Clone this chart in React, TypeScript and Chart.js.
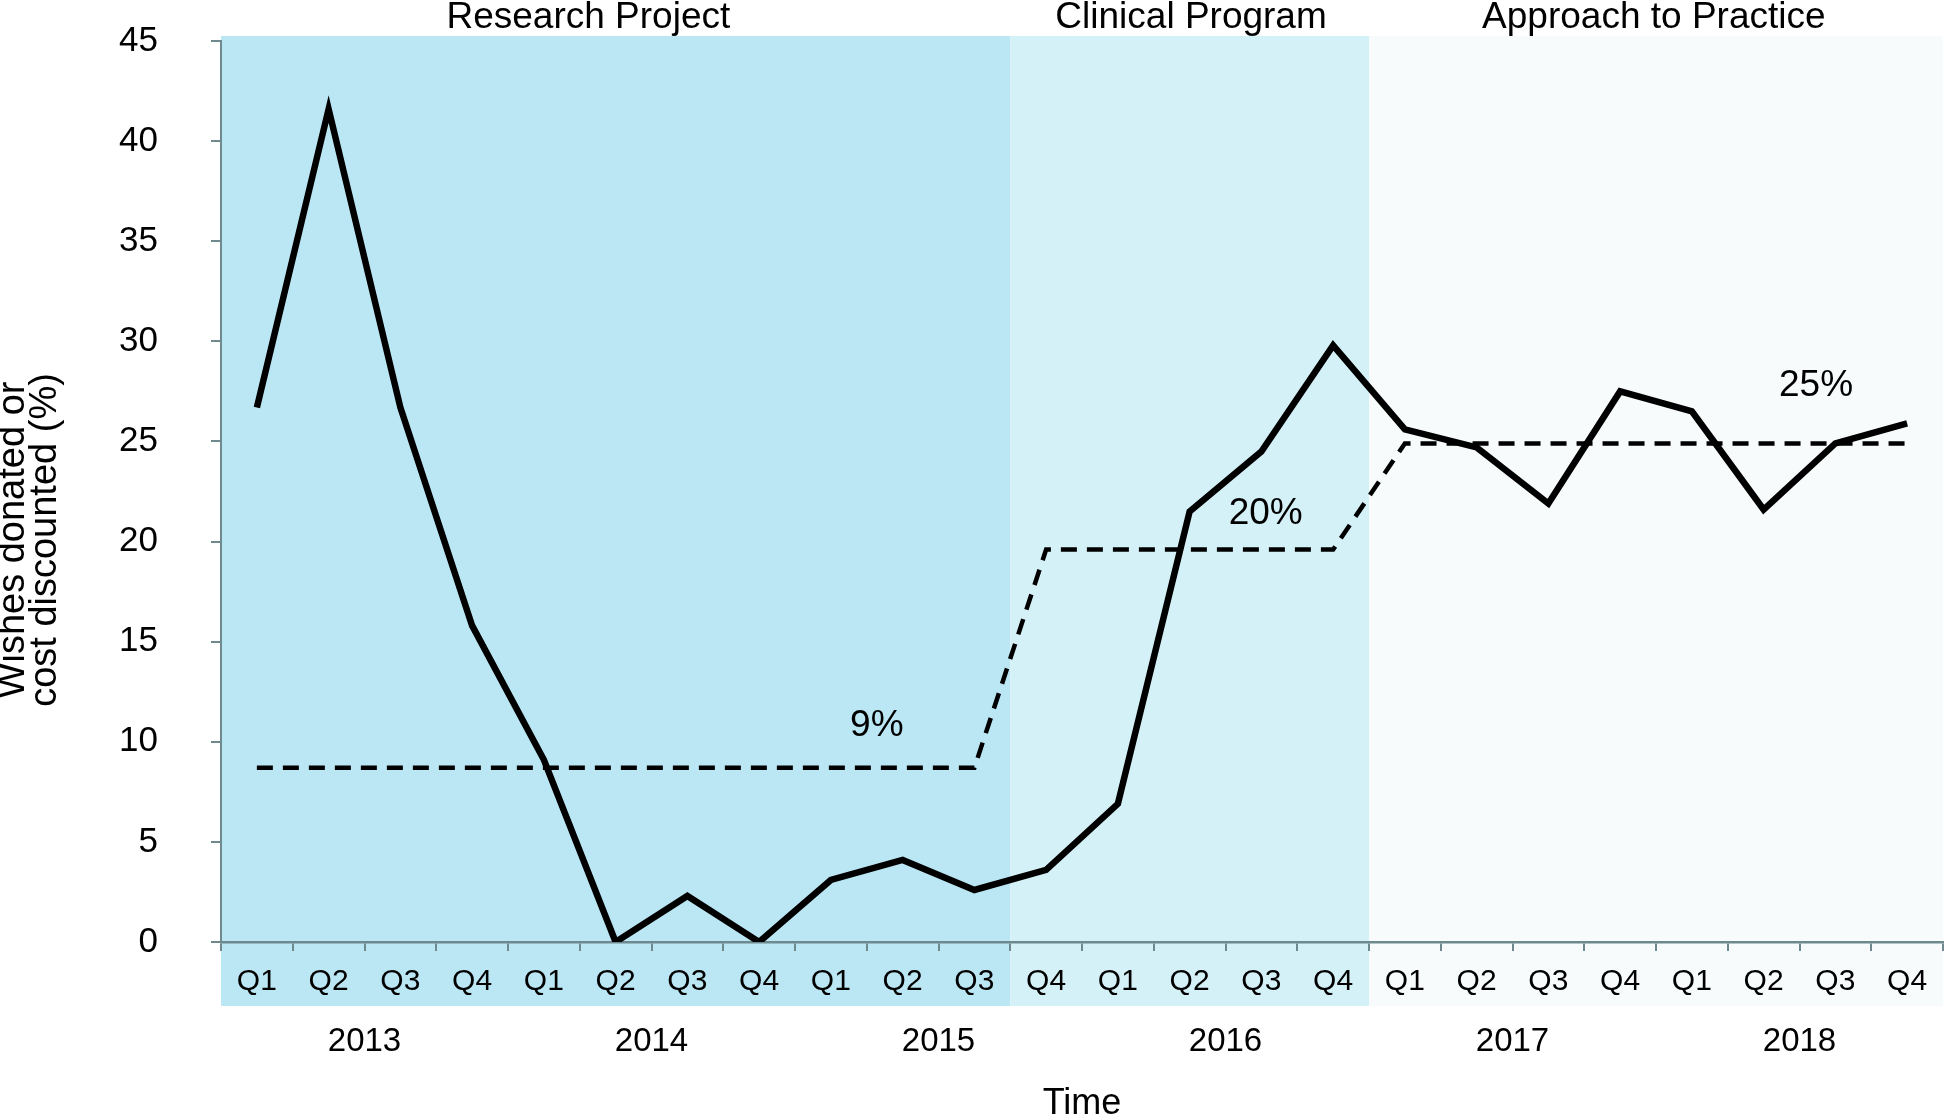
import React, { useEffect, useRef } from 'react';
import { Chart, registerables } from 'chart.js';

Chart.register(...registerables);

const quarterLabels = [
  'Q1', 'Q2', 'Q3', 'Q4',
  'Q1', 'Q2', 'Q3', 'Q4',
  'Q1', 'Q2', 'Q3', 'Q4',
  'Q1', 'Q2', 'Q3', 'Q4',
  'Q1', 'Q2', 'Q3', 'Q4',
  'Q1', 'Q2', 'Q3', 'Q4',
];
const yearLabels = ['2013', '2014', '2015', '2016', '2017', '2018'];

const wishesDonated = [
  26.7, 41.6, 26.7, 15.8,
  9.1, 0, 2.3, 0,
  3.1, 4.1, 2.6, 3.6,
  6.9, 21.5, 24.5, 29.8,
  25.6, 24.7, 21.9, 27.5,
  26.5, 21.6, 24.9, 25.9,
];

const phaseTarget = [
  8.7, 8.7, 8.7, 8.7,
  8.7, 8.7, 8.7, 8.7,
  8.7, 8.7, 8.7, 19.6,
  19.6, 19.6, 19.6, 19.6,
  24.9, 24.9, 24.9, 24.9,
  24.9, 24.9, 24.9, 24.9,
];

const phaseNames = ['Research Project', 'Clinical Program', 'Approach to Practice'];
const phaseStart = [0, 11, 16];
const phaseEnd = [10, 15, 23];
const phaseColors = ['#BBE7F5', '#D5F1F8', '#F7FBFC'];
const phaseLabelX = [4.62, 13.02, 19.47];

const targetLabels = ['9%', '20%', '25%'];
const targetLabelX = [8.64, 14.06, 21.73];
const targetLabelY = [10.8, 21.4, 27.8];

const yTitleLines = ['Wishes donated or', 'cost discounted (%)'];

const FONT = '"Liberation Sans", Arial, Helvetica, sans-serif';
const AXIS_COLOR = '#6F8A8F';

const phasePlugin = {
  id: 'phasePlugin',
  beforeDraw(chart: any) {
    const { ctx, chartArea, scales } = chart;
    const x = scales.x;
    const top = chartArea.top - 5;
    const bottom = x.bottom;
    ctx.save();
    phaseStart.forEach((s, i) => {
      const l = x.getPixelForValue(s - 0.5);
      const r = x.getPixelForValue(phaseEnd[i] + 0.5);
      ctx.fillStyle = phaseColors[i];
      ctx.fillRect(l, top, r - l, bottom - top);
    });
    ctx.restore();
  },
  afterDraw(chart: any) {
    const { ctx, scales } = chart;
    const x = scales.x;
    const y = scales.y;
    ctx.save();
    ctx.fillStyle = '#000';
    // phase names
    ctx.font = `37px ${FONT}`;
    ctx.textAlign = 'center';
    ctx.textBaseline = 'alphabetic';
    phaseNames.forEach((name, i) => {
      ctx.fillText(name, x.getPixelForValue(phaseLabelX[i]), 28);
    });
    // target labels
    ctx.font = `37px ${FONT}`;
    ctx.textBaseline = 'middle';
    targetLabels.forEach((t, i) => {
      ctx.fillText(t, x.getPixelForValue(targetLabelX[i]), y.getPixelForValue(targetLabelY[i]));
    });
    // y title
    ctx.font = `38px ${FONT}`;
    ctx.translate(0, 540);
    ctx.rotate(-Math.PI / 2);
    ctx.textAlign = 'center';
    ctx.textBaseline = 'middle';
    ctx.fillText(yTitleLines[0], 0, 14);
    ctx.fillText(yTitleLines[1], 0, 46);
    ctx.restore();
  },
};

export default function App() {
  const ref = useRef<HTMLCanvasElement | null>(null);

  useEffect(() => {
    document.body.style.margin = '0';
    const canvas = ref.current;
    if (!canvas) return;
    Chart.defaults.font.family = FONT;
    Chart.defaults.color = '#000';

    const chart = new Chart(canvas, {
      type: 'line',
      data: {
        labels: quarterLabels,
        datasets: [
          {
            label: 'Target',
            data: phaseTarget,
            borderColor: '#000',
            borderWidth: 4.5,
            borderDash: [16, 10],
            pointRadius: 0,
            tension: 0,
            fill: false,
          },
          {
            label: 'Wishes donated or cost discounted',
            data: wishesDonated,
            borderColor: '#000',
            borderWidth: 6.5,
            borderJoinStyle: 'miter',
            pointRadius: 0,
            tension: 0,
            fill: false,
          },
        ],
      },
      options: {
        responsive: false,
        animation: false,
        layout: { padding: { top: 41, right: 3, left: 0, bottom: 0 } },
        plugins: {
          legend: { display: false },
          tooltip: { enabled: false },
          title: { display: false },
        },
        scales: {
          x: {
            type: 'category',
            position: 'bottom',
            weight: 0,
            offset: true,
            grid: {
              offset: true,
              drawOnChartArea: false,
              drawTicks: true,
              tickLength: 9,
              color: AXIS_COLOR,
              lineWidth: 2,
            },
            border: { display: true, color: AXIS_COLOR, width: 2.5 },
            ticks: {
              autoSkip: false,
              maxRotation: 0,
              minRotation: 0,
              padding: 13,
              font: { size: 30, family: FONT },
              color: '#000',
            },
            afterFit: (scale: any) => {
              scale.height = 64;
              scale.paddingLeft = 0;
              scale.paddingRight = 0;
            },
          },
          x2: {
            type: 'category',
            position: 'bottom',
            weight: 1,
            labels: yearLabels,
            offset: true,
            grid: { display: false },
            border: { display: false },
            ticks: {
              autoSkip: false,
              maxRotation: 0,
              minRotation: 0,
              padding: 8,
              font: { size: 33, family: FONT },
              color: '#000',
            },
            title: {
              display: true,
              text: 'Time',
              color: '#000',
              font: { size: 36, family: FONT, lineHeight: 0.75 },
              padding: { top: 0, bottom: 0 },
            },
            afterFit: (scale: any) => {
              scale.height = 112;
              scale.paddingLeft = 0;
              scale.paddingRight = 0;
            },
          },
          y: {
            type: 'linear',
            position: 'left',
            min: 0,
            max: 45,
            grid: {
              drawOnChartArea: false,
              drawTicks: true,
              tickLength: 10,
              color: AXIS_COLOR,
              lineWidth: 2,
            },
            border: { display: true, color: AXIS_COLOR, width: 2 },
            ticks: {
              stepSize: 5,
              padding: 53,
              font: { size: 35, family: FONT },
              color: '#000',
            },
            afterFit: (scale: any) => {
              scale.width = 221;
              scale.paddingTop = 0;
              scale.paddingBottom = 0;
            },
          },
        },
      },
      plugins: [phasePlugin],
    } as any);

    return () => {
      chart.destroy();
    };
  }, []);

  return (
    <canvas
      ref={ref}
      width={1946}
      height={1118}
      style={{ display: 'block', width: '1946px', height: '1118px' }}
    />
  );
}
